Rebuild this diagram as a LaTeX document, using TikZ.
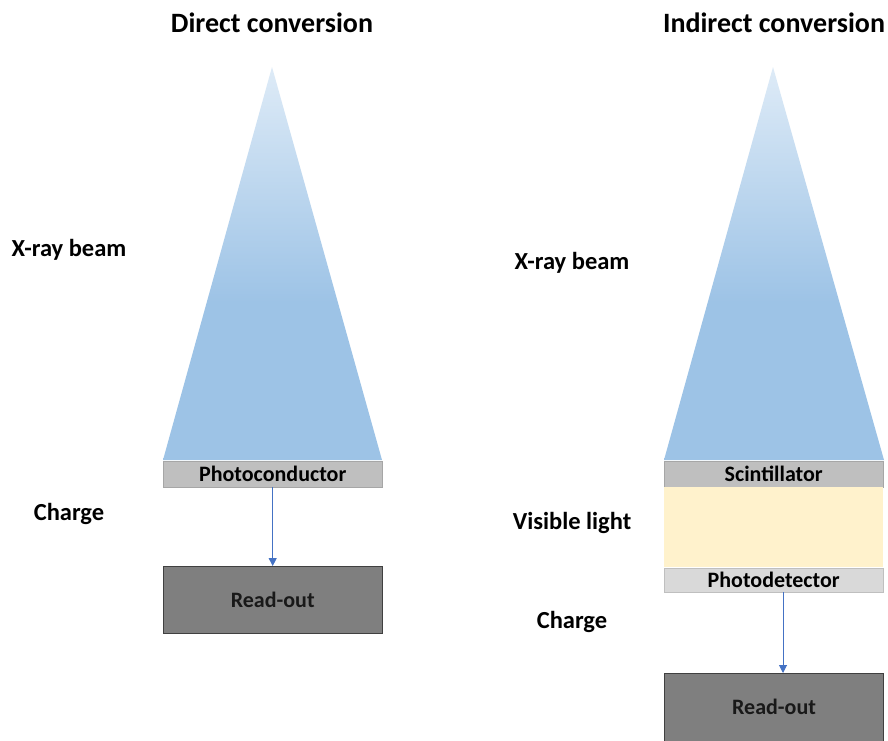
\documentclass[tikz,border=0pt]{standalone}
\usepackage{fontspec}
\setmainfont{Carlito}
\usetikzlibrary{arrows.meta}
\definecolor{beamdark}{HTML}{9DC3E6}
\definecolor{beamlight}{HTML}{DEEBF7}
\definecolor{layergray}{HTML}{BFBFBF}
\definecolor{layeredge}{HTML}{A6A6A6}
\definecolor{lightlayer}{HTML}{D9D9D9}
\definecolor{readfill}{HTML}{7F7F7F}
\definecolor{readedge}{HTML}{404040}
\definecolor{lightyellow}{HTML}{FFF2CC}
\definecolor{arrowblue}{HTML}{4472C4}
\pgfdeclareverticalshading{beamshade}{100bp}{color(0bp)=(beamdark); color(25bp)=(beamdark); color(45bp)=(beamdark); color(75bp)=(beamlight); color(100bp)=(beamlight)}
\begin{document}
\begin{tikzpicture}[x=1pt,y=-1pt,
  title/.style={font=\bfseries\fontsize{28}{32}\selectfont},
  lab/.style={font=\bfseries\fontsize{24.5}{28}\selectfont},
  layer/.style={draw=layeredge, fill=layergray, minimum width=219pt, minimum height=26pt, inner sep=0pt, font=\bfseries\fontsize{22}{24}\selectfont, anchor=north west},
  readbox/.style={draw=readedge, fill=readfill, minimum width=219pt, minimum height=67pt, inner sep=0pt, font=\bfseries\fontsize{22}{24}\selectfont, anchor=north west, text=black!90},
  beam/.style={shading=beamshade},
  conn/.style={draw=arrowblue, line width=0.9pt, -{Triangle[length=8pt,width=8pt]}}]
\clip (0,0) rectangle (888,740);
\fill[white] (0,0) rectangle (888,740);
% left
\node[title] (t1) at (272,23) {Direct conversion};
\path[beam] (272,67) -- (382,460) -- (163,460) -- cycle;
\node[layer] (pc) at (163,461) {Photoconductor};
\node[readbox] (ro1) at (163,566) {Read-out};
\draw[conn] (pc.south) -- (ro1.north);
\node[lab] (xr1) at (69,250) {X-ray beam};
\node[lab] (ch1) at (69,514) {Charge};
% right
\node[title] (t2) at (774,23) {Indirect conversion};
\path[beam] (773,67) -- (884,460) -- (664,460) -- cycle;
\node[layer] (sc) at (664,461) {Scintillator};
\node[layer, draw=none, fill=lightyellow, minimum height=80pt] (vl) at (664,487) {};
\node[layer, draw=layergray, fill=lightlayer, minimum height=24pt] (pd) at (664,568) {Photodetector};
\node[readbox, minimum height=80pt] (ro2) at (664,673) {};
\node[font=\bfseries\fontsize{22}{24}\selectfont, text=black!90] (ro2t) at (774,707) {Read-out};
\coordinate (a2s) at (783,592);
\coordinate (a2e) at (783,673);
\draw[conn] (a2s) -- (a2e);
\node[lab] (xr2) at (572,263) {X-ray beam};
\node[lab] (vis) at (572,523) {Visible light};
\node[lab] (ch2) at (572,622) {Charge};
\end{tikzpicture}
\end{document}
